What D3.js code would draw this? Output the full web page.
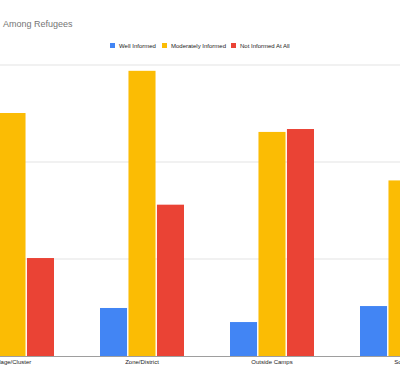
<!DOCTYPE html>
<html>
<head>
<meta charset="utf-8">
<script src="https://cdn.jsdelivr.net/npm/d3@7"></script>
<style>
  body { margin: 0; background: #fff; }
  svg { display: block; font-family: "Liberation Sans", Arial, sans-serif; }
</style>
</head>
<body>
<div id="chart"></div>
<script>
// data (left and right groups are cropped in the original)
var categories = ["Village/Cluster", "Zone/District", "Outside Camps", "South"];
var series = ["Well Informed", "Moderately Informed", "Not Informed At All"];
var wellInformed = [5, 4.95, 3.5, 5.15];
var moderatelyInformed = [25.05, 29.4, 23.1, 18.1];
var notInformed = [10.1, 15.6, 23.4, 12];
var yTicks = [0, 10, 20, 30];
var colors = ["#4285f4", "#fbbc04", "#ea4335"];

const width = 400, height = 387;

const svg = d3
  .select("#chart")
  .append("svg")
  .attr("width", width)
  .attr("height", height);

// title (cut off on the left like the reference)
svg
  .append("text")
  .attr("x", 3)
  .attr("y", 27)
  .attr("font-size", "9px")
  .attr("fill", "#757575")
  .text("Among Refugees");

// scales
const x0 = d3.scaleBand().domain(categories).range([-53, 467]).padding(0);
const x1 = d3.scaleBand().domain(series).range([23, 107]).paddingInner(0.05);
const y = d3.scaleLinear().domain([0, 30]).range([356, 65]);
const color = d3.scaleOrdinal().domain(series).range(colors);

// gridlines
svg
  .append("g")
  .selectAll("line")
  .data(yTicks.slice(1))
  .join("line")
  .attr("x1", 0)
  .attr("x2", width)
  .attr("y1", function (d) { return y(d); })
  .attr("y2", function (d) { return y(d); })
  .attr("stroke", "#e3e3e3")
  .attr("stroke-width", 1);

// bars
const rows = categories.map(function (c, i) {
  return { cat: c, values: [wellInformed[i], moderatelyInformed[i], notInformed[i]] };
});

svg
  .append("g")
  .selectAll("g")
  .data(rows)
  .join("g")
  .attr("transform", function (d) { return `translate(${x0(d.cat)},0)`; })
  .selectAll("rect")
  .data(function (d) {
    return d.values.map(function (v, j) { return { key: series[j], value: v }; });
  })
  .join("rect")
  .attr("x", function (d) { return x1(d.key); })
  .attr("y", function (d) { return y(d.value); })
  .attr("width", x1.bandwidth())
  .attr("height", function (d) { return y(0) - y(d.value); })
  .attr("fill", function (d) { return color(d.key); });

// baseline and category labels
const xAxis = svg
  .append("g")
  .attr("transform", `translate(0,${y(0)})`)
  .call(d3.axisBottom(x0).tickSize(0).tickPadding(4));
xAxis.select(".domain").attr("stroke", "#9e9e9e").attr("d", `M0,0.5H${width}`);
xAxis
  .selectAll("text")
  .attr("font-size", "6px")
  .attr("fill", "#222")
  .attr("font-family", "Liberation Sans, Arial, sans-serif");

// legend
const legendX = [110, 162, 231];
const legend = svg
  .append("g")
  .selectAll("g")
  .data(series)
  .join("g")
  .attr("transform", function (d, i) { return `translate(${legendX[i]},43)`; });
legend
  .append("rect")
  .attr("width", 5)
  .attr("height", 5)
  .attr("fill", function (d) { return color(d); });
legend
  .append("text")
  .attr("x", 9)
  .attr("y", 5)
  .attr("font-size", "6px")
  .attr("fill", "#222")
  .text(function (d) { return d; });
</script>
</body>
</html>
